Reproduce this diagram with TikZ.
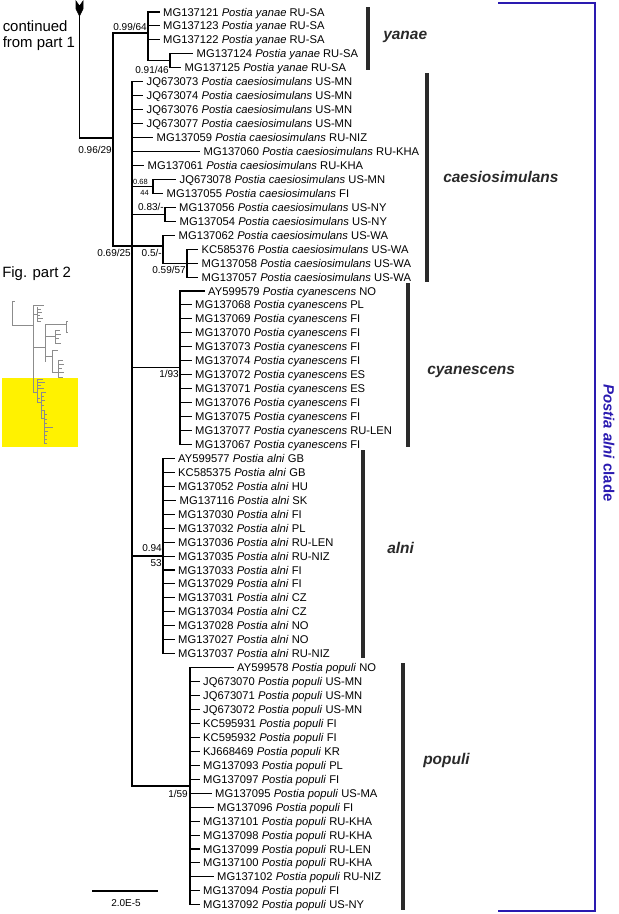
\documentclass[tikz,border=0pt]{standalone}
\usepackage{fontspec}
\setmainfont{Liberation Sans}
\usepackage{tikz}
\definecolor{cladeblue}{HTML}{2A1AB0}
\definecolor{cladebar}{HTML}{2A2A2A}
\definecolor{thumbgrey}{HTML}{8C8C8C}
\definecolor{thumbyellow}{HTML}{FFF200}

\begin{document}
\begin{tikzpicture}[x=0.75pt, y=-0.75pt,
  branch/.style={black, line width=0.8pt},
  tip/.style={anchor=west, inner xsep=2.6pt, inner ysep=0pt, text height=6pt, text depth=0pt, font=\fontsize{8.4}{10}\selectfont},
  support/.style={inner sep=0pt, text height=5.4pt, text depth=0pt, font=\fontsize{7.5}{9}\selectfont},
  tinysupport/.style={inner sep=0pt, text height=4pt, text depth=0pt, font=\fontsize{5.6}{7}\selectfont},
  cbar/.style={cladebar, line width=2.6pt},
  cladename/.style={anchor=west, inner sep=0pt, text=cladebar, font=\fontsize{11.6}{14}\selectfont\bfseries\itshape},
  sidetext/.style={anchor=base west, inner sep=0pt, font=\fontsize{11.2}{13}\selectfont},
  thumb/.style={thumbgrey, line width=0.35pt}]
  \useasboundingbox (0,0) rectangle (618,914);

  % thumbnail of the whole tree
  \fill[thumbyellow] (2,378) rectangle (78,447);
  \draw[thumb] (12,301) -- (15,301);
  \draw[thumb] (12,301) -- (12,325) -- (33,325);
  \draw[thumb] (33,305) -- (33,392);
  \draw[thumb] (33,305) -- (44,305);
  \draw[thumb] (33,314) -- (37,314);
  \draw[thumb] (37,307) -- (37,322);
  \foreach \ty/\tx in {309/41, 312/42, 315/40, 318/43, 321/41}
    \draw[thumb] (37,\ty) -- (\tx,\ty);
  \draw[thumb] (33,347) -- (45,347);
  \draw[thumb] (45,324) -- (45,362);
  \draw[thumb] (45,324) -- (66,324);
  \draw[thumb] (66,321) -- (66,332);
  \draw[thumb] (66,321) -- (68,321);
  \draw[thumb] (66,332) -- (68,332);
  \draw[thumb] (45,336) -- (55,336);
  \draw[thumb] (55,330) -- (55,343);
  \foreach \ty/\tx in {330/60, 334/61, 338/59, 343/61}
    \draw[thumb] (55,\ty) -- (\tx,\ty);
  \draw[thumb] (45,356) -- (52,356);
  \draw[thumb] (52,350) -- (52,372);
  \draw[thumb] (52,350) -- (58,350);
  \draw[thumb] (52,372) -- (58,372);
  \draw[thumb] (58,360) -- (58,377);
  \foreach \ty/\tx in {360/63, 364/64, 368/62, 372/64, 377/63}
    \draw[thumb] (58,\ty) -- (\tx,\ty);
  % thumbnail, part 2 (yellow)
  \draw[thumb] (33,392) -- (37,392);
  \draw[thumb] (37,379) -- (37,402);
  \foreach \ty/\tx in {379/43, 382/45, 385/41, 388/44, 398/40}
    \draw[thumb] (37,\ty) -- (\tx,\ty);
  \draw[thumb] (37,402) -- (41,402);
  \draw[thumb] (41,392) -- (41,418);
  \foreach \ty/\tx in {392/46, 396/44, 400/45, 405/44, 410/44}
    \draw[thumb] (41,\ty) -- (\tx,\ty);
  \draw[thumb] (41,418) -- (44,418);
  \draw[thumb] (44,410) -- (44,443);
  \foreach \ty/\tx in {414/47, 419/47, 423/47, 431/48, 435/47, 439/47, 443/47}
    \draw[thumb] (44,\ty) -- (\tx,\ty);
  \draw[thumb] (44,427) -- (53,427);

  % side texts
  \node[sidetext] (cont1) at (2.5,31.5) {continued};
  \node[sidetext] (cont2) at (2.5,47) {from part 1};
  \node[sidetext] (figpart) at (2,277) {Fig. part 2};

  % stem coming from part 1
  \filldraw[black] (76,1) -- (79.5,6) -- (83,1) -- (83,9) -- (79.5,16) -- (76,9) -- cycle;
  \coordinate (stem) at (79.5,14);

  % internal nodes
  \coordinate (nA) at (113,138);
  \coordinate (yan) at (148,33);
  \coordinate (yan2) at (170,60.8);
  \coordinate (nB) at (132,246);
  \coordinate (c68) at (153,186.4);
  \coordinate (c83) at (165,214.3);
  \coordinate (c5) at (163,246);
  \coordinate (c59) at (187,263.1);
  \coordinate (cy) at (180,367.7);
  \coordinate (al) at (163,556);
  \coordinate (po) at (190,786);
  \draw[branch] (stem) |- (nA);
  \draw[branch] (nA) |- (yan);
  \draw[branch] (nA) |- (nB);
  \draw[branch] (yan) |- (yan2);
  \foreach \dn in {c68,c83,c5,cy,al,po}
    \draw[branch] (nB) |- (\dn);
  \draw[branch] (c5) |- (c59);

  % yanae
  \foreach \acc/\cty/\xe/\up [count=\i from 0] in {MG137121/RU-SA/159.5/yan, MG137123/RU-SA/159.5/yan,
      MG137122/RU-SA/159.5/yan, MG137124/RU-SA/193/yan2, MG137125/RU-SA/181/yan2}{
    \node[tip] (t\i) at (\xe,{12+13.95*\i}) {\acc\ \textit{Postia yanae} \cty};
    \draw[branch] (\up) |- (t\i.west);
  }
  % caesiosimulans
  \foreach \acc/\cty/\xe/\up [count=\i from 5] in {JQ673073/US-MN/143/nB, JQ673074/US-MN/143/nB,
      JQ673076/US-MN/143/nB, JQ673077/US-MN/143/nB, MG137059/RU-NIZ/153/nB, MG137060/RU-KHA/200/nB,
      MG137061/RU-KHA/144/nB, JQ673078/US-MN/176/c68, MG137055/FI/163/c68, MG137056/US-NY/175.5/c83,
      MG137054/US-NY/176/c83, MG137062/US-WA/175/c5, KC585376/US-WA/198/c59, MG137058/US-WA/198/c59,
      MG137057/US-WA/198/c59}{
    \node[tip] (t\i) at (\xe,{12+13.95*\i}) {\acc\ \textit{Postia caesiosimulans} \cty};
    \draw[branch] (\up) |- (t\i.west);
  }
  % cyanescens
  \foreach \acc/\cty/\xe [count=\i from 20] in {AY599579/NO/204.5, MG137068/PL/191.5, MG137069/FI/191.5,
      MG137070/FI/191.5, MG137073/FI/191.5, MG137074/FI/191.5, MG137072/ES/191.5, MG137071/ES/191.5,
      MG137076/FI/191.5, MG137075/FI/191.5, MG137077/RU-LEN/191.5, MG137067/FI/191.5}{
    \node[tip] (t\i) at (\xe,{12+13.95*\i}) {\acc\ \textit{Postia cyanescens} \cty};
    \draw[branch] (cy) |- (t\i.west);
  }
  % alni
  \foreach \acc/\cty/\xe [count=\i from 32] in {AY599577/GB/174.5, KC585375/GB/174.5, MG137052/HU/174.5,
      MG137116/SK/176, MG137030/FI/174.5, MG137032/PL/174.5, MG137036/RU-LEN/174.5, MG137035/RU-NIZ/174.5,
      MG137033/FI/174.5, MG137029/FI/174.5, MG137031/CZ/174.5, MG137034/CZ/174.5, MG137028/NO/174.5,
      MG137027/NO/174.5, MG137037/RU-NIZ/174.5}{
    \node[tip] (t\i) at (\xe,{12+13.95*\i}) {\acc\ \textit{Postia alni} \cty};
    \draw[branch] (al) |- (t\i.west);
  }
  % populi
  \foreach \acc/\cty/\xe [count=\i from 47] in {AY599578/NO/233.5, JQ673070/US-MN/199.5, JQ673071/US-MN/199.5,
      JQ673072/US-MN/199.5, KC595931/FI/199.5, KC595932/FI/199.5, KJ668469/KR/199.5, MG137093/PL/199.5,
      MG137097/FI/199.5, MG137095/US-MA/211.5, MG137096/FI/213.5, MG137101/RU-KHA/199.5, MG137098/RU-KHA/199.5,
      MG137099/RU-LEN/199.5, MG137100/RU-KHA/199.5, MG137102/RU-NIZ/213.5, MG137094/FI/199.5, MG137092/US-NY/199.5}{
    \node[tip] (t\i) at (\xe,{12+13.95*\i}) {\acc\ \textit{Postia populi} \cty};
    \draw[branch] (po) |- (t\i.west);
  }

  % support values
  \node[support, anchor=east] (sA) at (112,150) {0.96/29};
  \node[support, anchor=east] (sYan) at (147,27) {0.99/64};
  \node[support, anchor=east] (sYan2) at (169,69.5) {0.91/46};
  \node[support, anchor=east] (sB) at (131,253) {0.69/25};
  \node[tinysupport, anchor=east] (s68a) at (148,181.5) {0.68};
  \node[tinysupport, anchor=east] (s68b) at (149,193) {44};
  \node[support, anchor=east] (s83) at (164,207) {0.83/-};
  \node[support, anchor=east] (s5) at (162,253) {0.5/-};
  \node[support, anchor=east] (s59) at (186,270) {0.59/57};
  \node[support, anchor=east] (sCy) at (179,374) {1/93};
  \node[support, anchor=east] (sAl1) at (162,548) {0.94};
  \node[support, anchor=east] (sAl2) at (162,563) {53};
  \node[support, anchor=east] (sPo) at (188,794) {1/59};

  % clade bars
  \draw[cbar] (368,7) -- (368,70);
  \node[cladename] (lYan) at (383,37) {yanae};
  \draw[cbar] (427,73) -- (427,282);
  \node[cladename] (lCae) at (443,177) {caesiosimulans};
  \draw[cbar] (408,283) -- (408,447);
  \node[cladename] (lCy) at (427,372) {cyanescens};
  \draw[cbar] (363,450) -- (363,658);
  \node[cladename] (lAl) at (387,548) {alni};
  \draw[cbar] (403,663) -- (403,910);
  \node[cladename] (lPo) at (423,760) {populi};

  % Postia alni clade bracket
  \draw[cladeblue, line width=1.5pt] (498,3) -- (595,3) -- (595,911) -- (498,911);
  \node[rotate=-90, inner sep=0pt, text=cladeblue, font=\fontsize{11.2}{13}\selectfont\bfseries] (lClade) at (609,443) {\textit{Postia alni} clade};

  % scale bar
  \coordinate (sb1) at (92,891);
  \coordinate (sb2) at (158,891);
  \draw[black, line width=0.8pt] (sb1) -- (sb2);
  \node[support] (sbLab) at (126,903) {2.0E-5};
\end{tikzpicture}
\end{document}
